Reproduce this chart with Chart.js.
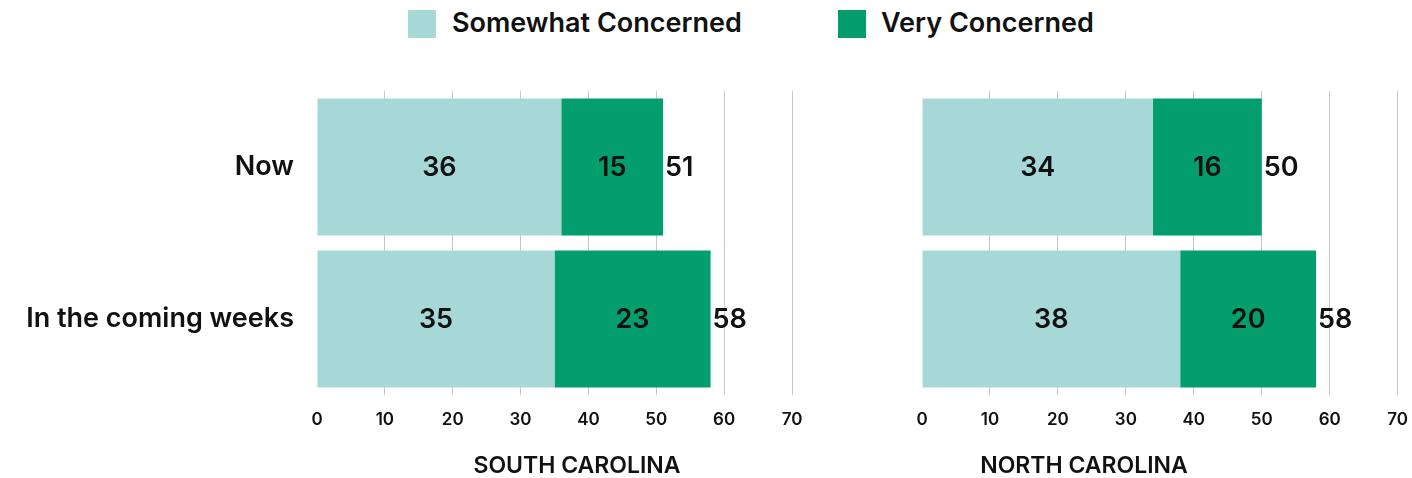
<!DOCTYPE html>
<html>
<head>
<meta charset="utf-8">
<script src="https://cdn.jsdelivr.net/npm/chart.js@4"></script>
<style>
  body { margin: 0; background: #fff; font-family: Inter, "Noto Sans", sans-serif; }
  #wrap { position: relative; width: 1412px; height: 478px; overflow: hidden; }
  .panel { position: absolute; top: 0; height: 478px; }
  .legend { position: absolute; top: 8px; left: 0; width: 1412px; height: 32px; }
  .lg { position: absolute; top: 0; font-size: 27px; font-weight: 600; color: #111; line-height: 30px; }
  .sw { position: absolute; top: 2px; width: 28px; height: 28px; }
  .ttl { position: absolute; top: 451px; font-size: 23px; font-weight: 600; color: #111; transform: translateX(-50%); white-space: nowrap; }
</style>
</head>
<body>
<div id="wrap">
  <div class="legend">
    <div class="sw" style="left:408px;background:#a6d8d8"></div>
    <div class="lg" style="left:452px">Somewhat Concerned</div>
    <div class="sw" style="left:838px;background:#049e6e"></div>
    <div class="lg" style="left:881px">Very Concerned</div>
  </div>
  <div class="panel" style="left:0;width:830px"><canvas id="sc"></canvas></div>
  <div class="panel" style="left:860px;width:563px"><canvas id="nc"></canvas></div>
  <div class="ttl" style="left:577px">SOUTH CAROLINA</div>
  <div class="ttl" style="left:1084px">NORTH CAROLINA</div>
</div>
<script>
const categorias = ['Now', 'In the coming weeks'];
const somewhatSC = [36, 35];
const verySC = [15, 23];
const somewhatNC = [34, 38];
const veryNC = [16, 20];
const xTicks = [0, 10, 20, 30, 40, 50, 60, 70];

const corClara = '#a6d8d8';
const corEscura = '#049e6e';
const fonte = 'Inter, "Noto Sans", sans-serif';

// rótulos dentro das barras e total no fim
const rotulos = {
    id: 'rotulos',
    afterDatasetsDraw(chart) {
        const ctx = chart.ctx;
        ctx.save();
        ctx.font = '600 27px ' + fonte;
        ctx.fillStyle = '#111';
        ctx.textBaseline = 'middle';
        const n = chart.data.datasets.length;
        chart.data.datasets.forEach((ds, i) => {
            chart.getDatasetMeta(i).data.forEach((bar, j) => {
                ctx.textAlign = 'center';
                ctx.fillText(ds.data[j], (bar.x + bar.base) / 2, bar.y + 1);
                if (i === n - 1) {
                    let total = 0;
                    chart.data.datasets.forEach(d => total += d.data[j]);
                    ctx.textAlign = 'left';
                    ctx.fillText(total, bar.x + 2, bar.y + 1);
                }
            });
        });
        ctx.restore();
    }
};

function criarGrafico(id, somewhat, very, mostrarY, padLeft, padRight) {
    const ctx = document.getElementById(id).getContext('2d');
    return new Chart(ctx, {
        type: 'bar',
        data: {
            labels: categorias,
            datasets: [
                { label: 'Somewhat Concerned', data: somewhat, backgroundColor: corClara },
                { label: 'Very Concerned', data: very, backgroundColor: corEscura }
            ]
        },
        options: {
            indexAxis: 'y',
            responsive: true,
            maintainAspectRatio: false,
            animation: false,
            layout: { padding: { top: 91, bottom: 0, left: padLeft, right: padRight } },
            datasets: { bar: { barPercentage: 0.9, categoryPercentage: 1 } },
            scales: {
                x: {
                    stacked: true,
                    min: 0,
                    max: 70,
                    afterBuildTicks: s => { s.ticks = xTicks.map(v => ({ value: v })); },
                    afterFit: s => { s.height = 83; },
                    border: { display: false },
                    grid: {
                        drawTicks: false,
                        color: c => c.tick && c.tick.value === 0 ? 'rgba(0,0,0,0)' : '#c8c8c8',
                        lineWidth: 1
                    },
                    ticks: {
                        color: '#111', padding: 15, maxRotation: 0, minRotation: 0,
                        font: { family: fonte, size: 17, weight: '600' }
                    }
                },
                y: {
                    stacked: true,
                    display: mostrarY,
                    afterFit: s => { s.width = mostrarY ? 317 : 0; },
                    border: { display: false },
                    grid: { display: false, drawTicks: false },
                    ticks: { color: '#111', padding: 23, font: { family: fonte, size: 27, weight: '600' } }
                }
            },
            plugins: {
                legend: { display: false },
                tooltip: { enabled: false }
            }
        },
        plugins: [rotulos]
    });
}

window.addEventListener('DOMContentLoaded', () => {
    criarGrafico('sc', somewhatSC, verySC, true, 0, 38);
    criarGrafico('nc', somewhatNC, veryNC, false, 62, 4);
});
</script>
</body>
</html>
